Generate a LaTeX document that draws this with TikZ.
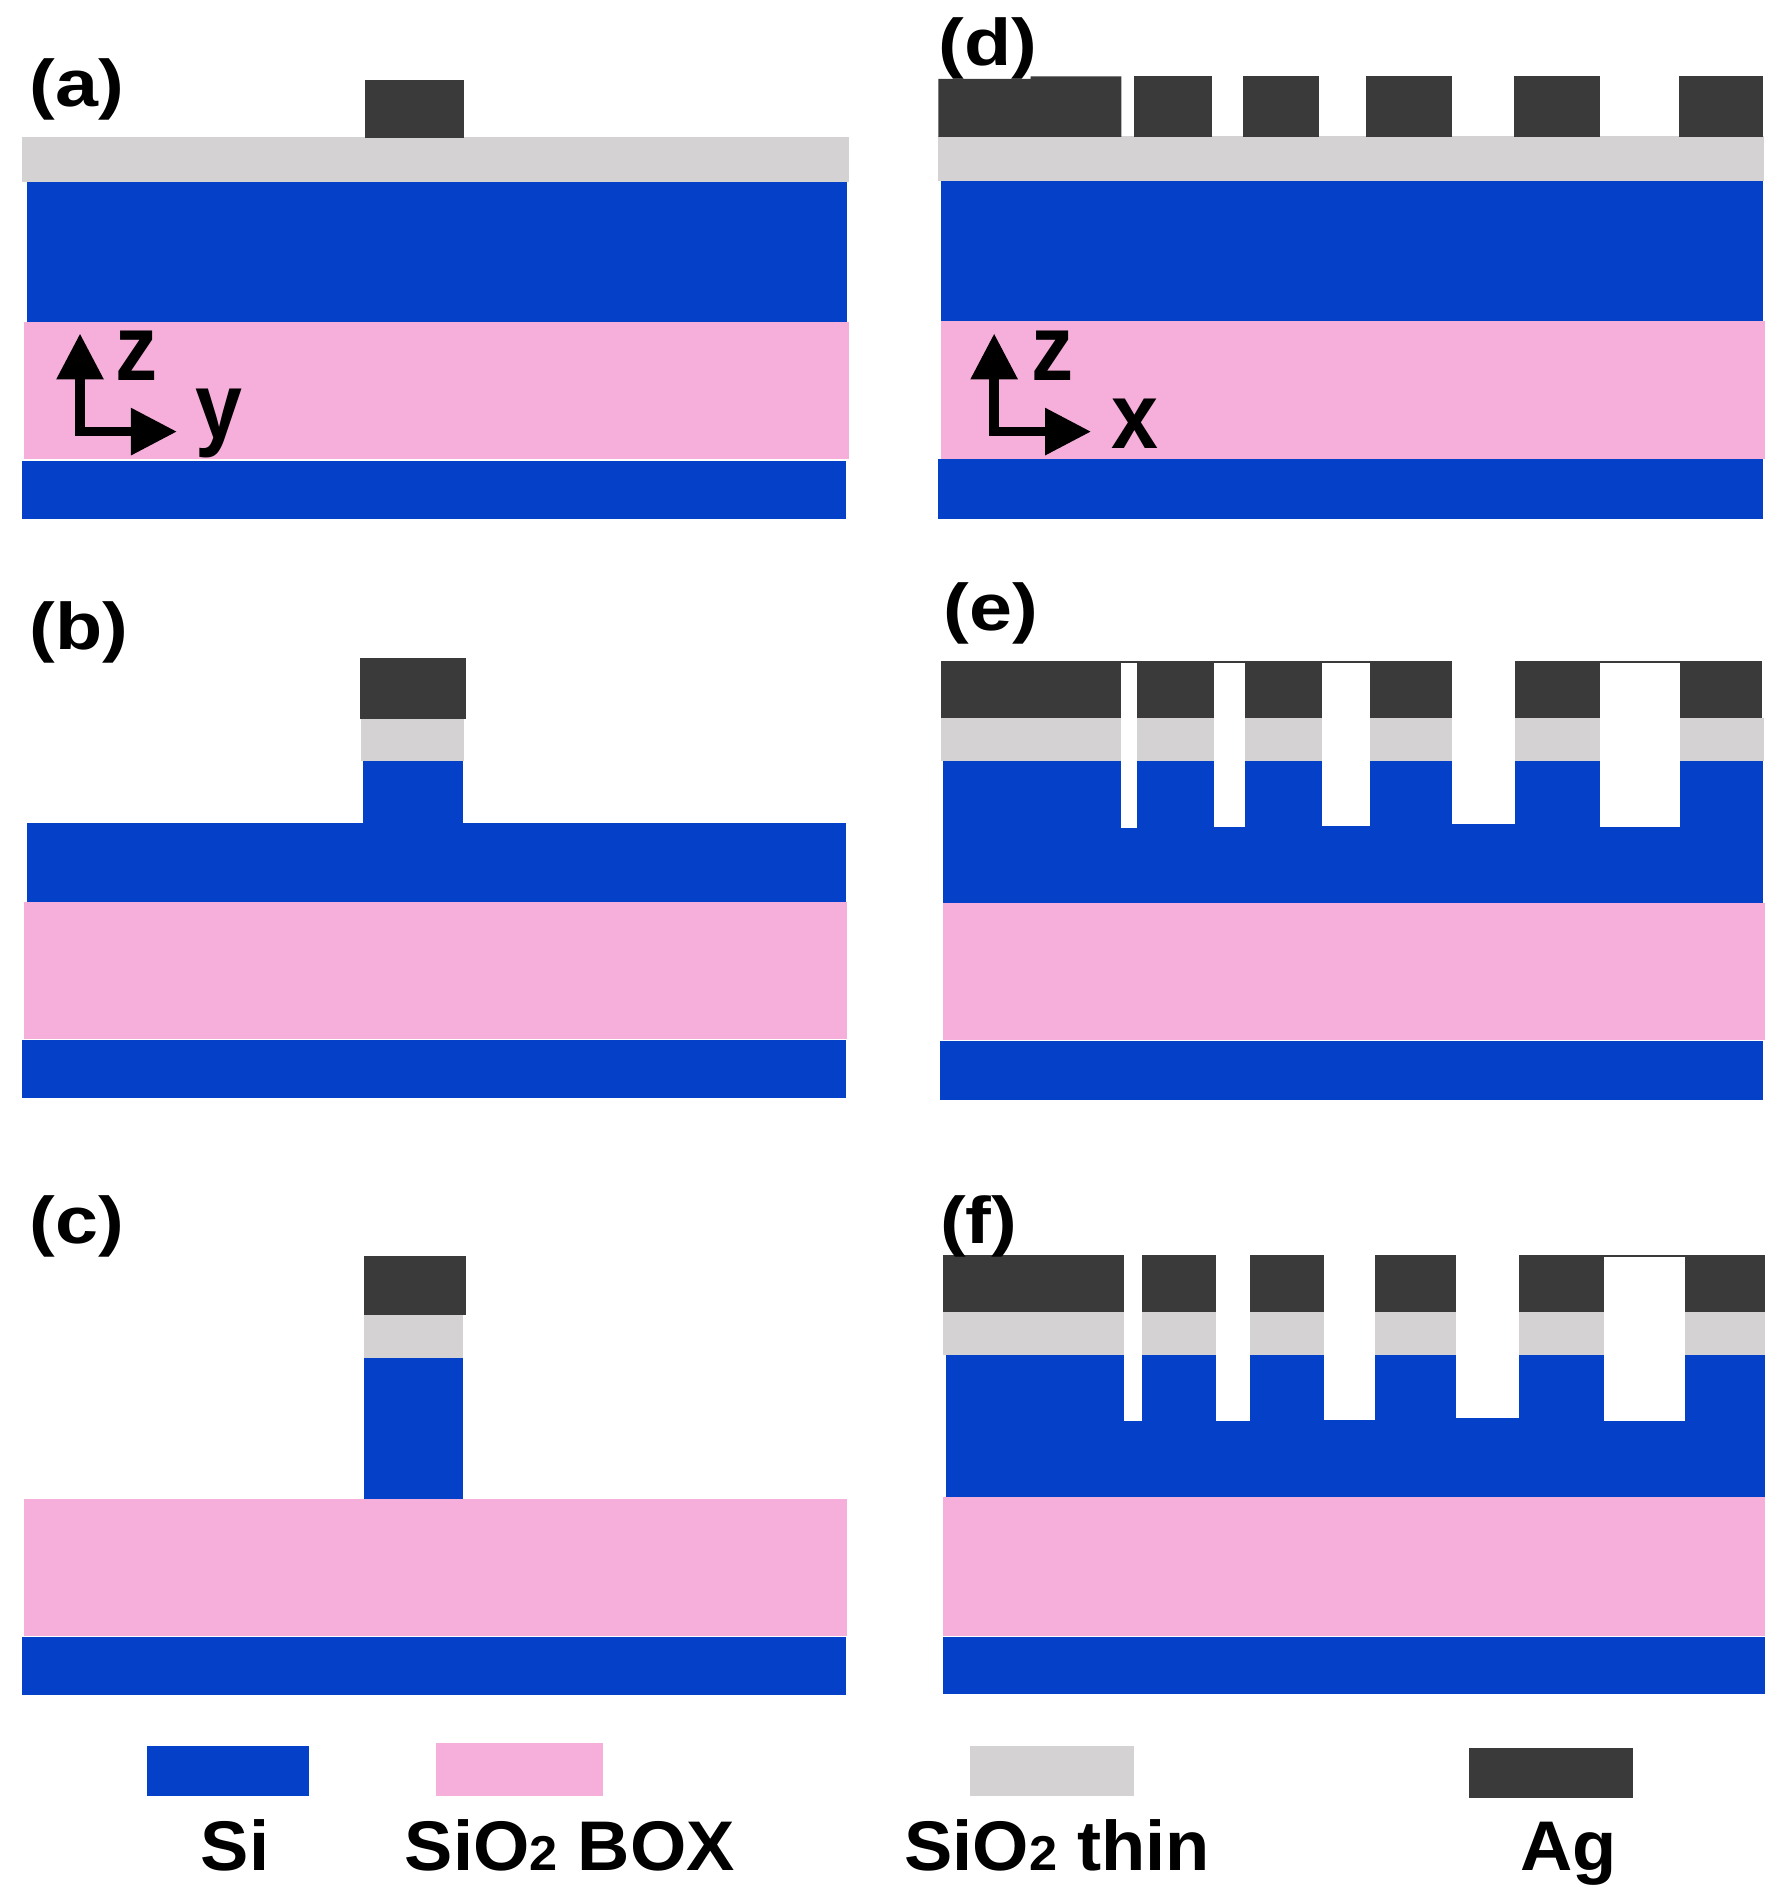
\documentclass[tikz,border=0pt]{standalone}
\usepackage{fontspec}
\usepackage{graphicx}
\setmainfont{Liberation Sans}
\usetikzlibrary{arrows.meta}
\definecolor{siC}{HTML}{0540C8}
\definecolor{boxC}{HTML}{F6AFDB}
\definecolor{thinC}{HTML}{D4D2D3}
\definecolor{agC}{HTML}{3A3A3A}
\newcommand{\fsz}[1]{\fontsize{#1}{#1}\selectfont}
\newcommand{\subtwo}{{\fsz{23}2}}
\newcommand{\pnltxt}[1]{\scalebox{1.17}[1]{#1}}
\newcommand{\axtxt}[1]{\scalebox{0.9}[1]{#1}}
\newcommand{\legtxt}[1]{\scalebox{1.03}[1]{#1}}
\tikzset{
  si/.style={fill=siC},
  boxl/.style={fill=boxC},
  thinl/.style={fill=thinC},
  agl/.style={fill=agC},
  gap/.style={fill=white},
  panel/.style={inner sep=0pt,anchor=base west,font=\fsz{31}\bfseries},
  axl/.style={inner sep=0pt,anchor=base,font=\fsz{44}\bfseries},
  leg/.style={inner sep=0pt,anchor=base,font=\fsz{33}\bfseries},
  axis/.style={line width=0.16cm,{Triangle[length=0.76cm,width=0.74cm]}-{Triangle[length=0.76cm,width=0.74cm]}}
}
\begin{document}
\begin{tikzpicture}[x=0.02cm,y=-0.02cm]
\useasboundingbox (0,0) rectangle (1471,1568);
\fill[white] (0,0) rectangle (1471,1568);

% panel (a)
\fill[si] (22,150) rectangle (699,266);
\fill[boxl] (20,266) rectangle (700,379);
\fill[si] (18,380) rectangle (698,428);
\fill[thinl] (18,113) rectangle (700,150);
\fill[agl] (301,66) rectangle (383,114);

% panel (b)
\fill[si] (22,679) rectangle (698,744);
\fill[si] (299,628) rectangle (382,680);
\fill[boxl] (20,744) rectangle (699,857);
\fill[si] (18,858) rectangle (698,906);
\fill[thinl] (298,593) rectangle (383,628);
\fill[agl] (297,543) rectangle (384,593);

% panel (c)
\fill[si] (300,1120) rectangle (382,1236);
\fill[boxl] (20,1236) rectangle (699,1349);
\fill[si] (18,1350) rectangle (698,1398);
\fill[thinl] (300,1085) rectangle (382,1120);
\fill[agl] (300,1036) rectangle (384,1085);

% panel (d)
\fill[si] (776,149) rectangle (1454,265);
\fill[boxl] (776,265) rectangle (1456,379);
\fill[si] (774,379) rectangle (1454,428);
\fill[thinl] (774,112) rectangle (1455,149);
\fill[agl] (774,65) -- (850,65) -- (850,63) -- (925,63) -- (925,113) -- (774,113) -- cycle;
\fill[agl] (935,63) rectangle (1000,113);
\fill[agl] (1025,63) rectangle (1088,113);
\fill[agl] (1127,63) rectangle (1198,113);
\fill[agl] (1249,63) rectangle (1320,113);
\fill[agl] (1385,63) rectangle (1454,113);

% panel (e)
\fill[si] (778,628) rectangle (1454,745);
\fill[boxl] (778,745) rectangle (1456,858);
\fill[si] (775,859) rectangle (1454,907);
\fill[thinl] (776,592) rectangle (1455,628);
\fill[agl] (776,545) rectangle (1453,592);
\fill[gap] (925,547) rectangle (938,683);
\fill[gap] (1001,547) rectangle (1027,682);
\fill[gap] (1090,547) rectangle (1130,681);
\fill[gap] (1198,545) rectangle (1250,680);
\fill[gap] (1320,547) rectangle (1386,682);

% panel (f)
\fill[si] (780,1118) rectangle (1456,1235);
\fill[boxl] (778,1235) rectangle (1456,1349);
\fill[si] (778,1350) rectangle (1456,1397);
\fill[thinl] (778,1082) rectangle (1456,1118);
\fill[agl] (778,1035) rectangle (1456,1082);
\fill[gap] (927,1035) rectangle (942,1172);
\fill[gap] (1003,1035) rectangle (1031,1172);
\fill[gap] (1092,1035) rectangle (1134,1171);
\fill[gap] (1201,1035) rectangle (1253,1170);
\fill[gap] (1323,1037) rectangle (1390,1172);

% panel labels
\node[panel] (la) at (24,88) {\pnltxt{(a)}};
\node[panel] (lb) at (24,536) {\pnltxt{(b)}};
\node[panel] (lc) at (24,1026) {\pnltxt{(c)}};
\node[panel] (ld) at (774,54) {\pnltxt{(d)}};
\node[panel] (le) at (778,520) {\pnltxt{(e)}};
\node[panel] (lf) at (775,1026) {\pnltxt{(f)}};

% axes left
\coordinate (az) at (66,275);
\coordinate (ay) at (146,356);
\draw[axis] (az) |- (ay);
\node[axl] (zl1) at (113,314) {\axtxt{z}};
\node[axl] (yl1) at (181,362) {\axtxt{y}};

% axes right
\coordinate (bz) at (820,275);
\coordinate (bx) at (900,356);
\draw[axis] (bz) |- (bx);
\node[axl] (zl2) at (868,314) {\axtxt{z}};
\node[axl] (xl2) at (936,370) {\axtxt{x}};

% legend
\fill[si] (121,1440) rectangle (255,1481);
\fill[boxl] (360,1438) rectangle (497,1481);
\fill[thinl] (800,1440) rectangle (935,1481);
\fill[agl] (1212,1442) rectangle (1347,1483);
\node[leg] (t1) at (194,1543) {\legtxt{Si}};
\node[leg] (t2) at (470,1543) {\legtxt{SiO\subtwo{} BOX}};
\node[leg] (t3) at (872,1543) {\legtxt{SiO\subtwo{} thin}};
\node[leg] (t4) at (1294,1543) {\legtxt{Ag}};
\end{tikzpicture}
\end{document}
